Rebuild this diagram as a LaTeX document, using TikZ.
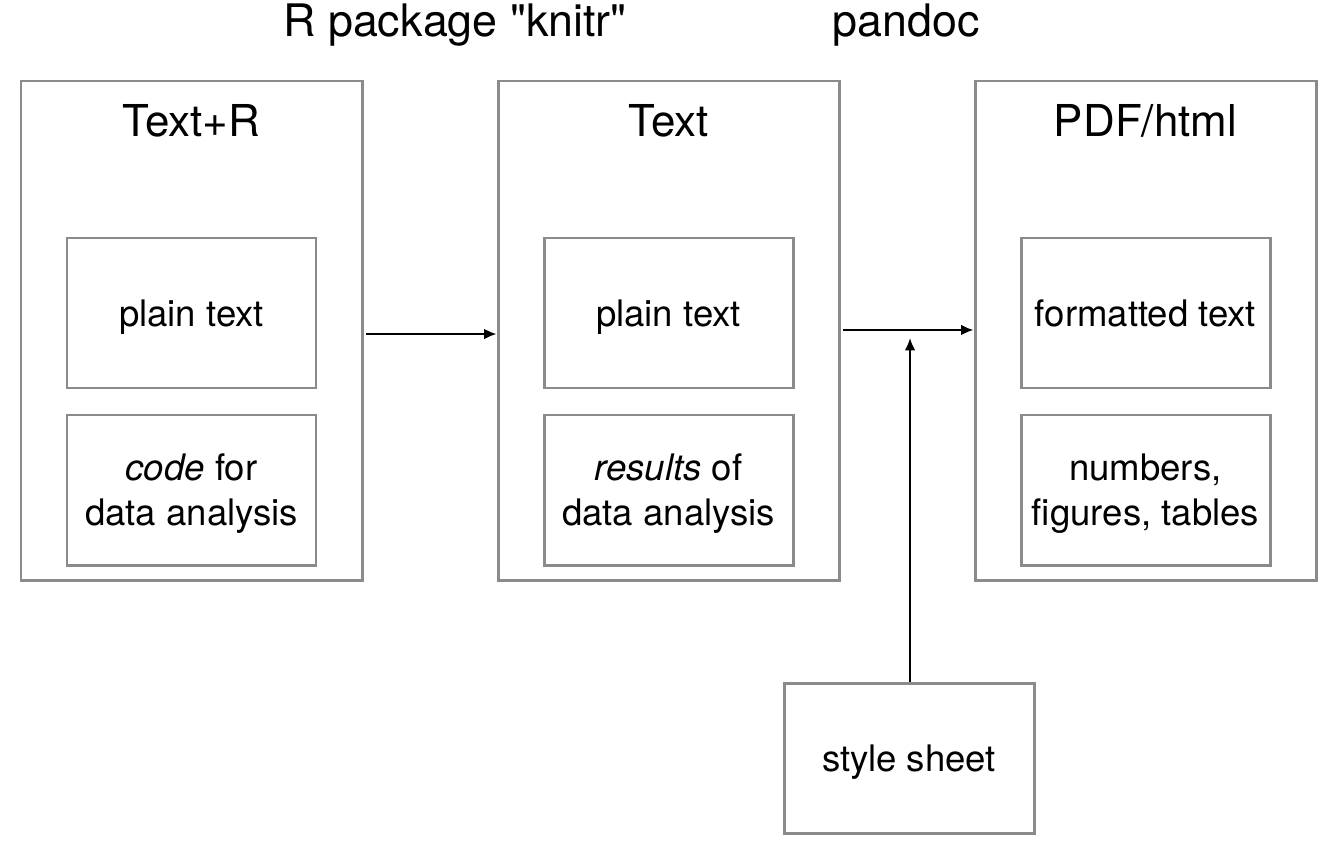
\documentclass[tikz,border=0pt]{standalone}
\usepackage{fontspec}
\setmainfont{TeX Gyre Heros}
\usetikzlibrary{arrows.meta}
\definecolor{boxgray}{HTML}{898B8D}

\begin{document}
\begin{tikzpicture}[
    outerbox/.style={draw=boxgray, line width=1.7pt, minimum width=6.82cm, minimum height=9.98cm},
    innerbox/.style={draw=boxgray, line width=1.7pt, minimum width=4.98cm, minimum height=3cm,
      align=center, text depth=0pt, font=\fontsize{20.8}{25.6}\selectfont},
    boxtitle/.style={font=\fontsize{25}{30}\selectfont},
    tooltitle/.style={font=\fontsize{25.5}{30}\selectfont},
    flow/.style={-{Latex[length=7pt,width=6pt]}, line width=1.1pt}
  ]
  \useasboundingbox (0,0) rectangle (26.8,-16.92);

  \node[tooltitle] (knitr) at (9.1,-0.5) {R package \textquotedbl knitr\textquotedbl};
  \node[tooltitle] (pandoc) at (18.12,-0.5) {pandoc};

  \node[outerbox] (rmd) at (3.83,-6.61) {};
  \node[outerbox] (md) at (13.37,-6.61) {};
  \node[outerbox] (out) at (22.91,-6.61) {};

  \node[boxtitle] (rmdtitle) at (3.83,-2.42) {Text+R};
  \node[boxtitle] (mdtitle) at (13.37,-2.42) {Text};
  \node[boxtitle] (outtitle) at (22.91,-2.42) {PDF/html};

  \node[innerbox] (rmdtext) at (3.83,-6.26) {plain text};
  \node[innerbox] (rmdcode) at (3.83,-9.8) {\textit{code} for\\data analysis};

  \node[innerbox] (mdtext) at (13.37,-6.26) {plain text};
  \node[innerbox] (mdres) at (13.37,-9.8) {\textit{results} of\\data analysis};

  \node[innerbox] (outtext) at (22.91,-6.26) {formatted text};
  \node[innerbox] (outnum) at (22.91,-9.8) {numbers,\\figures, tables};

  \node[innerbox, minimum width=5cm] (style) at (18.18,-15.16) {style sheet};

  \coordinate (join) at (18.2,-6.76);

  \draw[flow] ([xshift=1.5pt,yshift=-2pt]rmd.east) -- ([yshift=-2pt]md.west);
  \draw[flow] ([xshift=1.5pt,yshift=0.3pt]md.east) -- ([yshift=0.3pt]out.west);
  \draw[flow] (style.north -| join) -- (join);
\end{tikzpicture}
\end{document}
